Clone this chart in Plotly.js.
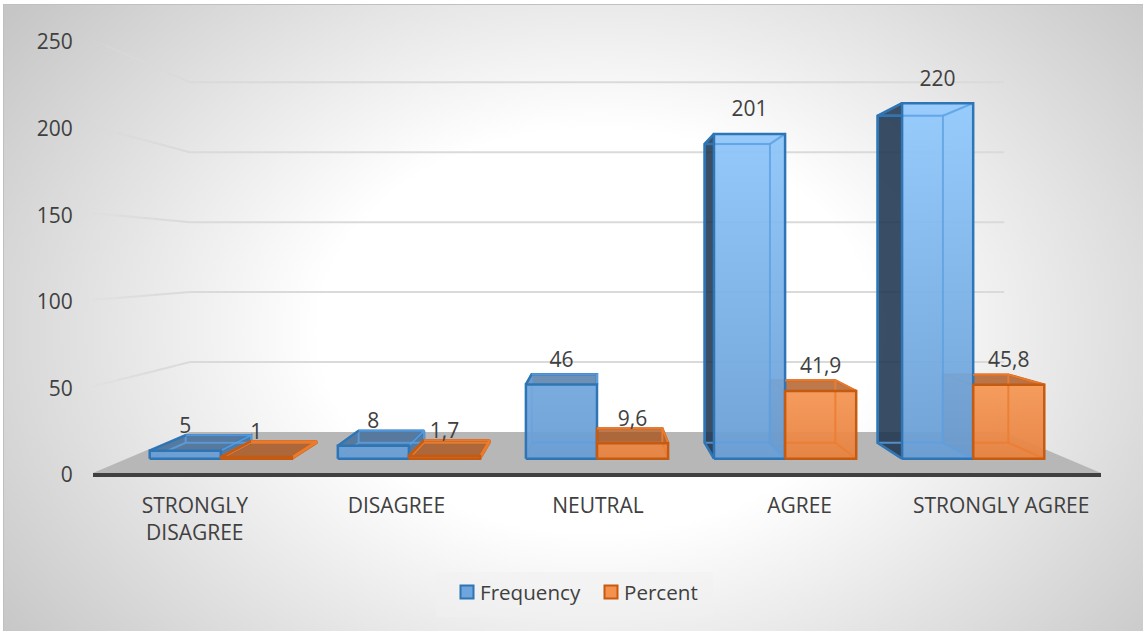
<!DOCTYPE html>
<html>
<head>
<meta charset="utf-8">
<script src="https://cdn.plot.ly/plotly-3.0.1.min.js"></script>
<style>
  html, body { margin: 0; padding: 0; background: #fff; overflow: hidden; }
  #frame {
    position: absolute; left: 3px; top: 4px; width: 1140px; height: 627px;
    box-sizing: border-box; border-top: 1px solid #c0c0c0; border-left: 1px solid #c0c0c0;
    background: radial-gradient(ellipse 730px 530px at 52% 52%, #ffffff 0%, #ffffff 38%, #c6c6c6 100%);
  }
  #chart { position: absolute; left: 0; top: 0; width: 1143px; height: 631px; }
</style>
</head>
<body>
<div id="frame"></div>
<div id="chart"></div>
<script>
// Survey responses drawn as a transparent 3-D column chart on 2-D axes.
const categories = ['STRONGLY<br>DISAGREE', 'DISAGREE', 'NEUTRAL', 'AGREE', 'STRONGLY AGREE'];
const frequency = [5, 8, 46, 201, 220];
const percent = [1, 1.7, 9.6, 41.9, 45.8];
const valueTicks = [0, 50, 100, 150, 200, 250];
const seriesNames = ['Frequency', 'Percent'];

// Perspective: depth ratios shrink a point towards the vanishing point.
const VANISH_C = 2, EYE = 123.1;
const R_FRONT = 0.933, R_BACK = 0.858, R_WALL = 0.808;
const BAR_W = 0.378, LABEL_LIFT = 13.2;
const proj = (c, v, r) => [VANISH_C + (c - VANISH_C) * r, EYE + (v - EYE) * r];

const blue = {
  grad: { start: 0, stop: 215, colorscale: [[0, 'rgba(103,156,211,0.93)'], [1, 'rgba(148,203,255,0.93)']], type: 'vertical' },
  inner: 'rgba(92,160,226,0.8)', outer: '#2e75b6', side: 'rgba(28,50,76,0.85)',
  top: 'rgba(38,88,140,0.62)', ghost: 'rgba(70,125,185,0.16)', swatch: '#6fa5dd'
};
const orange = {
  grad: { start: 0, stop: 50, colorscale: [[0, 'rgba(229,127,60,0.94)'], [1, 'rgba(246,152,86,0.94)']], type: 'vertical' },
  inner: 'rgba(236,125,49,0.9)', outer: '#c55a11', side: 'rgba(150,70,20,0.7)',
  top: 'rgba(170,78,18,0.72)', ghost: 'rgba(150,95,60,0.16)', swatch: '#f4914f'
};

function poly(points, fill, extra) {
  return Object.assign({
    x: points.map(p => p[0]), y: points.map(p => p[1]),
    type: 'scatter', mode: 'lines', fill: 'toself', fillcolor: fill,
    line: { width: 0 }, hoverinfo: 'skip', showlegend: false
  }, extra || {});
}
function edges(segments, color, width) {
  const x = [], y = [];
  segments.forEach(s => { s.forEach(p => { x.push(p[0]); y.push(p[1]); }); x.push(null); y.push(null); });
  return { x, y, type: 'scatter', mode: 'lines', line: { color, width }, hoverinfo: 'skip', showlegend: false };
}

// One box, split into the part behind a neighbour and the part always in view.
function box(c0, c1, v, pal) {
  const fl = proj(c0, 0, R_FRONT), fr = proj(c1, 0, R_FRONT), ftl = proj(c0, v, R_FRONT), ftr = proj(c1, v, R_FRONT);
  const bl = proj(c0, 0, R_BACK), br = proj(c1, 0, R_BACK), btl = proj(c0, v, R_BACK), btr = proj(c1, v, R_BACK);
  const behind = [poly([bl, br, btr, btl, bl], pal.ghost), poly([fl, fr, br, bl, fl], pal.ghost)];
  const backOutline = [];
  const frontOutline = [[fl, fr, ftr, ftl, fl]];
  const rightOfCentre = c0 > VANISH_C;

  if (rightOfCentre) {
    behind.push(poly([fr, br, btr, ftr, fr], pal.ghost));
    behind.push(poly([fl, bl, btl, ftl, fl], pal.side));
    backOutline.push([fl, bl, btl, ftl]);
  } else if (c1 < VANISH_C) {
    behind.push(poly([fl, bl, btl, ftl, fl], pal.ghost));
    behind.push(poly([fr, br, btr, ftr, fr], pal.top));
    backOutline.push([fr, br, btr, ftr]);
  } else {
    behind.push(poly([fr, br, btr, ftr, fr], pal.ghost));
  }
  if (v < EYE) {
    behind.push(poly([ftl, ftr, btr, btl, ftl], pal.top));
    backOutline.push([ftl, btl, btr, ftr]);
  } else {
    backOutline.push([btl, btr, ftr]);
  }

  // Inner edges left of the front face stay behind whatever stands beside the box
  const innerBack = rightOfCentre
    ? [[[fl[0], bl[1]], bl, btl, [ftl[0], btl[1]]], [fl, bl], [ftl, btl]]
    : [[fl, bl], [ftl, btl], [bl, btl]];
  const innerFront = rightOfCentre
    ? [[[fl[0], bl[1]], br, btr, [ftl[0], btl[1]]], [fr, br], [ftr, btr]]
    : [[bl, br, btr, btl], [fr, br], [ftr, btr]];

  return {
    behind: behind.concat([edges(innerBack, pal.inner, 2), edges(backOutline, pal.outer, 2.5)]),
    front: [
      poly([fl, fr, ftr, ftl, fl], pal.grad.colorscale[0][1], { fillgradient: pal.grad }),
      edges(innerFront, pal.inner, 2),
      edges(frontOutline, pal.outer, 2.5)
    ]
  };
}

const traces = [];

// Floor of the chart box
const floorCorners = [proj(-0.5, 0, 1), proj(-0.5, 0, R_WALL), proj(4.5, 0, R_WALL), proj(4.5, 0, 1), proj(-0.5, 0, 1)];
traces.push(poly(floorCorners, '#b7b7b7'));

// Columns: right of the vanishing point the blue box hides the orange box's left side
categories.forEach((_, i) => {
  const f = box(i - BAR_W, i, frequency[i], blue);
  const p = box(i, i + BAR_W, percent[i], orange);
  if (i > VANISH_C) {
    traces.push(...p.behind, ...f.behind, ...f.front, ...p.front);
  } else {
    traces.push(...f.behind, ...f.front, ...p.behind, ...p.front);
  }
});

// Value labels sit a fixed lift above the top edge of each column's front face
const labelFmt = v => String(v).replace('.', ',');
[[frequency, -BAR_W / 2], [percent, BAR_W / 2]].forEach(([vals, off]) => {
  traces.push({
    x: vals.map((v, i) => proj(i + off, v, R_FRONT)[0]),
    y: vals.map(v => proj(0, v, R_FRONT)[1] + LABEL_LIFT),
    text: vals.map(labelFmt), type: 'scatter', mode: 'text', textposition: 'middle center',
    textfont: { family: 'Open Sans, sans-serif', size: 21, color: '#404040' },
    cliponaxis: false, hoverinfo: 'skip', showlegend: false
  });
});

// Legend entries
[[seriesNames[0], blue], [seriesNames[1], orange]].forEach(([name, pal]) => {
  traces.push({
    x: [null], y: [null], name, type: 'scatter', mode: 'markers',
    marker: { symbol: 'square', size: 13, color: pal.swatch, line: { color: pal.outer, width: 2 } }
  });
});

// Wall gridlines: solid across the back, fading out along the left side wall
const shapes = [];
const gridColor = a => 'rgba(218,218,218,' + a + ')';
valueTicks.slice(1).forEach(v => {
  const a = proj(-0.5, v, R_WALL), b = proj(4.5, v, R_WALL);
  shapes.push({ type: 'line', xref: 'x', yref: 'y', x0: a[0], y0: a[1], x1: b[0], y1: b[1], line: { color: gridColor(1), width: 2 }, layer: 'below' });
  const STEPS = 8;
  for (let k = 0; k < STEPS; k++) {
    const r0 = R_WALL + (1 - R_WALL) * k / STEPS, r1 = R_WALL + (1 - R_WALL) * (k + 1) / STEPS;
    const p0 = proj(-0.5, v, r0), p1 = proj(-0.5, v, r1);
    const alpha = 1 - Math.pow(k / STEPS, 2);
    shapes.push({ type: 'line', xref: 'x', yref: 'y', x0: p0[0], y0: p0[1], x1: p1[0], y1: p1[1], line: { color: gridColor(alpha.toFixed(2)), width: 2 }, layer: 'below' });
  }
});
// Legend panel
shapes.push({ type: 'rect', xref: 'paper', yref: 'paper', x0: 343 / 1008, x1: 620 / 1008, y0: -144 / 433, y1: -99 / 433, fillcolor: 'rgba(240,240,240,0.55)', line: { width: 0 }, layer: 'below' });

const fontBase = { family: 'Open Sans, sans-serif', size: 21, color: '#404040' };
const layout = {
  width: 1143, height: 631,
  margin: { l: 93, r: 42, t: 40, b: 158, pad: 0 },
  paper_bgcolor: 'rgba(0,0,0,0)', plot_bgcolor: 'rgba(0,0,0,0)',
  font: fontBase, shapes,
  xaxis: {
    range: [-0.5, 4.5], tickmode: 'array', tickvals: categories.map((_, i) => i), ticktext: categories,
    showgrid: false, zeroline: false, showline: true, linecolor: '#404040', linewidth: 3.5,
    ticks: 'outside', ticklen: 11, tickcolor: 'rgba(0,0,0,0)', tickangle: 0, tickfont: fontBase, ticklabelshift: 1,
    fixedrange: true, layer: 'above traces'
  },
  yaxis: {
    range: [0, 250], tickmode: 'array', tickvals: valueTicks, ticktext: valueTicks.map(String),
    showgrid: false, zeroline: false, showline: false,
    ticks: 'outside', ticklen: 15, tickcolor: 'rgba(0,0,0,0)', tickfont: fontBase, ticklabelshift: 2,
    fixedrange: true
  },
  showlegend: true,
  legend: {
    orientation: 'h', x: 347 / 1008, xanchor: 'left', y: -99 / 433, yanchor: 'top',
    bgcolor: 'rgba(0,0,0,0)', font: Object.assign({}, fontBase, { size: 20.6 }), entrywidth: 99, entrywidthmode: 'pixels',
    itemclick: false, itemdoubleclick: false
  }
};

Plotly.newPlot('chart', traces, layout, { displayModeBar: false, staticPlot: true }).then(() => {
  // Bring the legend swatches closer to their labels
  document.querySelectorAll('.legend .legendsymbols').forEach(g => g.setAttribute('transform', 'translate(7,0)'));
});
</script>
</body>
</html>
